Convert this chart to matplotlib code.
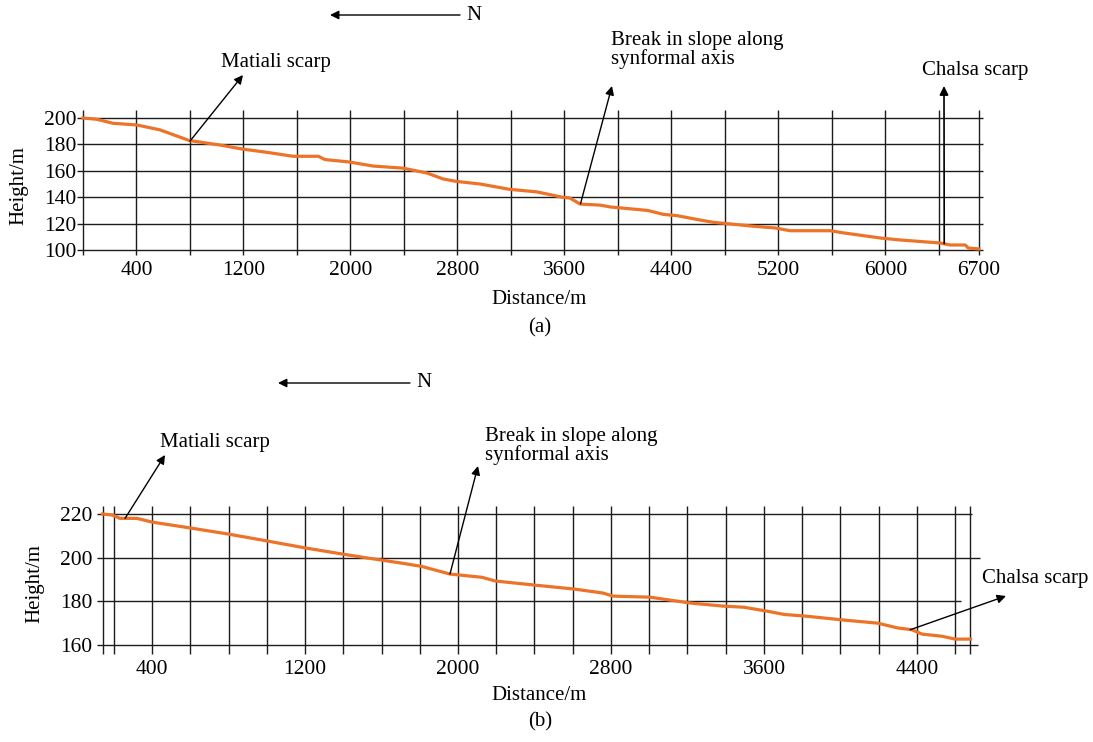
import matplotlib
matplotlib.use("Agg")
import matplotlib.pyplot as plt

plt.rcParams['font.family'] = ['Liberation Serif', 'DejaVu Serif']
plt.rcParams['font.size'] = 15
plt.rcParams['xtick.labelsize'] = 15.5
plt.rcParams['ytick.labelsize'] = 15.5

W, H = 1093, 742

# profile (a)
top_dist = [0, 105, 224, 404, 576, 793, 1025, 1190, 1376, 1570, 1760, 1810, 1990, 2170,
            2393, 2573, 2693, 2790, 2970, 3187, 3396, 3583, 3640, 3718, 3868, 3943, 4220,
            4340, 4443, 4615, 4712, 4914, 5011, 5176, 5288, 5587, 5684, 5969, 6110, 6410,
            6485, 6597, 6620, 6700]
top_height = [200, 199, 196, 194.7, 191, 183, 179.5, 176.5, 174, 171, 171, 168.5, 166.7, 163.6,
              162, 158.3, 153.8, 152, 150, 146, 144, 140, 139.4, 134.8, 134, 132.6, 130,
              127, 126, 122.7, 121, 119, 118, 116.7, 114.6, 114.6, 113, 109, 107.6, 105.3,
              103.8, 103.8, 101.5, 100.8]
top_grid_x = [0, 400, 800, 1200, 1600, 2000, 2400, 2800, 3200, 3600, 4000, 4400, 4800,
              5200, 5600, 6000, 6400, 6700]
top_xlabels = [400, 1200, 2000, 2800, 3600, 4400, 5200, 6000, 6700]
top_yticks = [100, 120, 140, 160, 180, 200]

# profile (b)
bot_dist = [142, 195, 232, 321, 400, 600, 800, 1005, 1205, 1400, 1531, 1705, 1810, 1958,
            2126, 2195, 2405, 2610, 2758, 2810, 3005, 3216, 3389, 3495, 3616, 3705, 3821,
            4021, 4195, 4300, 4373, 4426, 4531, 4600, 4680]
bot_height = [220, 219.5, 218, 218, 216.3, 213.6, 210.8, 207.6, 204.4, 201.6, 199.8, 197.5,
              196, 192.5, 191, 189.3, 187.4, 185.6, 183.8, 182.4, 181.9, 179.2, 177.8, 177.3,
              175.5, 174, 173.2, 171.4, 170, 167.8, 167, 165, 164, 162.7, 162.7]
bot_grid_x = [142] + list(range(200, 4601, 200)) + [4680]
bot_xlabels = [400, 1200, 2000, 2800, 3600, 4400]
bot_yticks = [160, 180, 200, 220]
bot_hline_end = [4720, 4630, 4730, 4690]

LINE = '#1c1c1c'
ORANGE = '#EC7327'


def px(x, y):
    return (x / W, 1 - y / H)


def make_ax(fig, l, r, t, b):
    ax = fig.add_axes([l / W, 1 - b / H, (r - l) / W, (b - t) / H])
    for s in ax.spines.values():
        s.set_visible(False)
    ax.patch.set_alpha(0)
    return ax


def arrow(ax, head, tail, lw=1.0):
    ax.annotate('', xy=px(*head), xycoords='figure fraction', xytext=tail,
                textcoords='data', arrowprops=dict(arrowstyle='-|>', color='black', lw=lw,
                                                   mutation_scale=13, shrinkA=0, shrinkB=0))


def north(fig, x0, x1, y):
    fig.add_artist(matplotlib.patches.FancyArrowPatch(px(x1, y), px(x0, y),
                   transform=fig.transFigure, arrowstyle='-|>', mutation_scale=13,
                   color='black', lw=1.0, shrinkA=0, shrinkB=0))
    fig.text(*px(x1 + 6, y), 'N', ha='left', va='center')


fig = plt.figure(figsize=(W / 100, H / 100), dpi=100)

# ---- (a)
ax1 = make_ax(fig, 83, 979, 118, 250)
ax1.set_xlim(0, 6700)
ax1.set_ylim(100, 200)
ax1.vlines(top_grid_x, 96.2, 206, color=LINE, lw=1.0, clip_on=False)
ax1.hlines(top_yticks, 0, 6730, color=LINE, lw=1.0, clip_on=False)
ax1.plot(top_dist, top_height, color=ORANGE, lw=2.3, clip_on=False, zorder=3)
ax1.set_xticks(top_xlabels)
ax1.set_yticks(top_yticks)
ax1.tick_params(axis='x', length=0, pad=8)
ax1.tick_params(axis='y', length=4, width=1.0, color=LINE, pad=1)

arrow(ax1, (243, 75), (800, 182.5))
arrow(ax1, (612, 86), (3720, 135))
arrow(ax1, (944, 86), (6440, 104.8), lw=1.2)
fig.text(*px(221, 63), 'Matiali scarp', ha='left', va='center')
fig.text(*px(611, 50), 'Break in slope along\nsynformal axis', ha='left', va='center',
         linespacing=1.0)
fig.text(*px(922, 70), 'Chalsa scarp', ha='left', va='center')
fig.text(*px(539, 300), 'Distance/m', ha='center', va='center')
fig.text(*px(540, 328), '(a)', ha='center', va='center')
fig.text(*px(19, 186), 'Height/m', ha='center', va='center', rotation=90)
north(fig, 330, 460, 15)

# ---- (b)
ax2 = make_ax(fig, 102.7, 970.5, 514, 645)
ax2.set_xlim(142, 4680)
ax2.set_ylim(160, 220)
ax2.vlines(bot_grid_x, 156, 223.5, color=LINE, lw=1.0, clip_on=False)
for yv, xe in zip(bot_yticks, bot_hline_end):
    ax2.hlines(yv, 142, xe, color=LINE, lw=1.0, clip_on=False)
ax2.plot(bot_dist, bot_height, color=ORANGE, lw=2.3, clip_on=False, zorder=3)
ax2.set_xticks(bot_xlabels)
ax2.set_yticks(bot_yticks)
ax2.tick_params(axis='x', length=0, pad=11)
ax2.tick_params(axis='y', length=4, width=1.0, color=LINE, pad=3.5)

arrow(ax2, (165, 455), (259, 218))
arrow(ax2, (478, 466), (1958, 192.5))
arrow(ax2, (1006, 596), (4365, 167))
fig.text(*px(160, 443), 'Matiali scarp', ha='left', va='center')
fig.text(*px(485, 446), 'Break in slope along\nsynformal axis', ha='left', va='center',
         linespacing=1.0)
fig.text(*px(982, 579), 'Chalsa scarp', ha='left', va='center')
fig.text(*px(539, 695), 'Distance/m', ha='center', va='center')
fig.text(*px(540, 722), '(b)', ha='center', va='center')
fig.text(*px(35, 584), 'Height/m', ha='center', va='center', rotation=90)
north(fig, 278, 410, 383)

fig.savefig('out.png', dpi=100)
